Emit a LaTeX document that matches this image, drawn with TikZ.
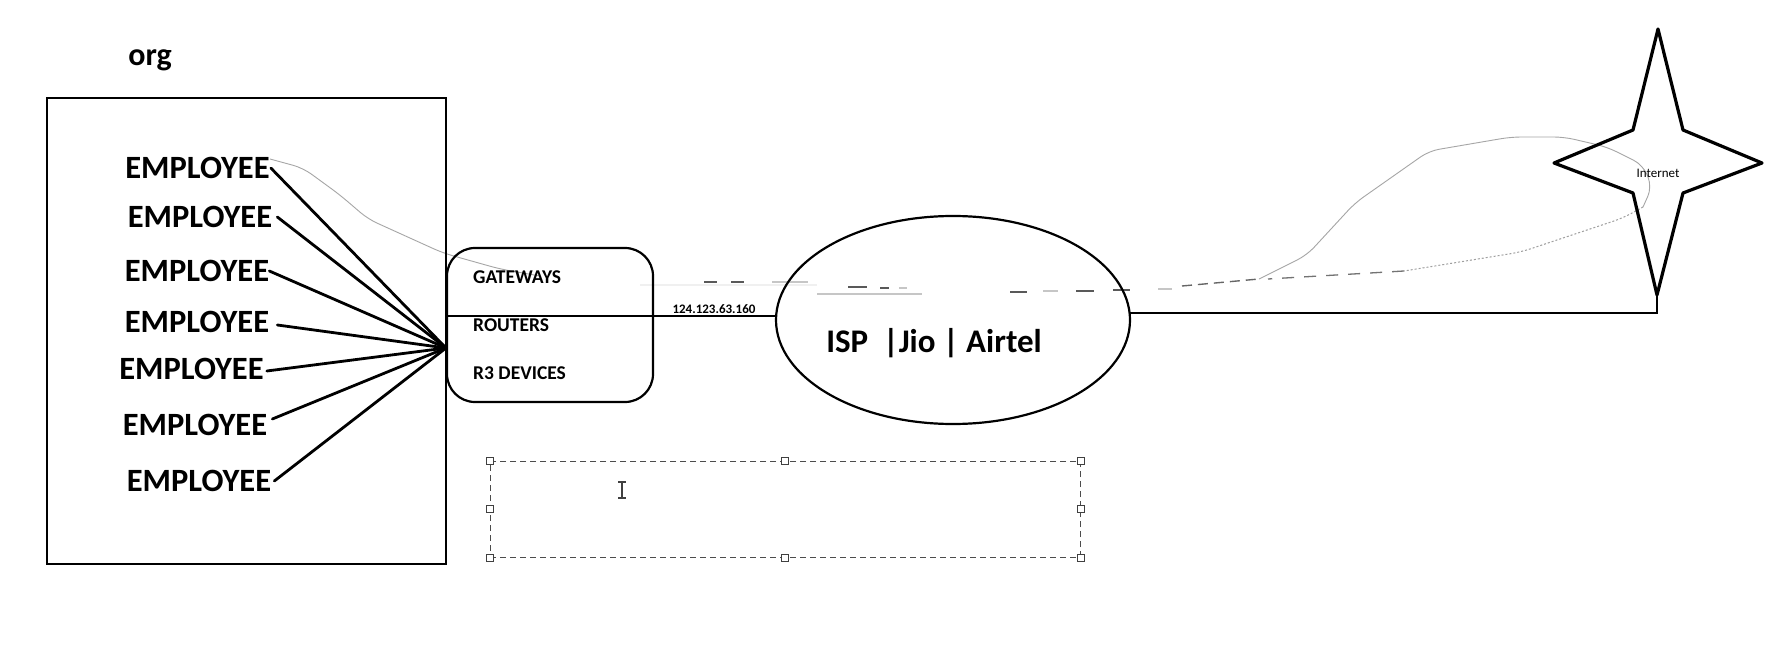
\documentclass[tikz,border=0pt]{standalone}
\usepackage{fontspec}
\setmainfont{Carlito}
\usetikzlibrary{shapes.geometric,calc}
\begin{document}
\begin{tikzpicture}[x=1pt,y=-1pt,
  emp/.style={font=\fontsize{32.5}{38}\selectfont\bfseries, inner sep=0pt},
  devtxt/.style={font=\fontsize{19.5}{23}\selectfont\bfseries, inner sep=0pt, anchor=west},
  link/.style={line width=2.8pt, line cap=round},
  lasso/.style={draw=gray!70, line width=0.9pt, rounded corners=10pt},
  dotlasso/.style={draw=gray!75, line width=1pt, dash pattern=on 2pt off 2pt, rounded corners=10pt},
  dk/.style={draw=black!65, line width=1.6pt},
  lt/.style={draw=gray!45, line width=2.6pt},
  handle/.style={draw=black!75, fill=white, line width=0.9pt, minimum size=7pt, inner sep=0pt}
]
\useasboundingbox (0,0) rectangle (1770,655);
\fill[white] (0,0) rectangle (1770,655);

% ---- grey lasso strokes (drawn first, underneath) ----
\coordinate (gwend) at (540,276);
\coordinate (lassoA) at (1259,279);
\coordinate (lassoB) at (1268,279);
\draw[lasso] (270,159) -- (303,168) -- (340,195) -- (368,219) -- (443,253) -- (500,269) -- (gwend);
\draw[draw=gray!12, line width=2pt] (640,285) -- (817,285);
\draw[dk] (704,282) -- (717,282);
\draw[dk] (731,282) -- (744,282);
\draw[lt] (772,282) -- (808,282);
\draw[dk] (848,287) -- (867,287);
\draw[dk] (880,288) -- (889,288);
\draw[lt] (899,288) -- (907,288);
\draw[lt] (817,294) -- (922,294);
\draw[dk] (1010,292) -- (1027,292);
\draw[lt] (1043,291) -- (1058,291);
\draw[dk] (1076,291) -- (1094,291);
\draw[dk] (1113,290) -- (1130,290);
\draw[lt] (1158,289) -- (1172,289);
\draw[draw=black!60, line width=1.4pt, dash pattern=on 10pt off 6pt] (1182,286) -- (lassoA);
\draw[lasso] (lassoA) -- (1307,255) -- (1355,203) -- (1429,151) -- (1511,137) -- (1564,137) -- (1607,147) -- (1643,165) -- (1652,187) -- (1643,207);
\draw[dotlasso] (1643,207) -- (1623,218) -- (1521,252) -- (1404,271);
\draw[draw=black!55, line width=1.3pt, dash pattern=on 12pt off 10pt] (1404,271) -- (lassoB);

% ---- org box and employees ----
\node[font=\fontsize{32}{38}\selectfont\bfseries, inner sep=0pt] (org) at (150,60) {org};
\node[draw, line width=2pt, minimum width=399pt, minimum height=466pt, inner sep=0pt] (orgbox) at (246,331) {};

\node[emp] (e1) at (197.5,168) {EMPLOYEE};
\node[emp] (e2) at (200,217) {EMPLOYEE};
\node[emp] (e3) at (197,271) {EMPLOYEE};
\node[emp] (e4) at (197,322) {EMPLOYEE};
\node[emp] (e5) at (191.5,369) {EMPLOYEE};
\node[emp] (e6) at (195,425) {EMPLOYEE};
\node[emp] (e7) at (199,481) {EMPLOYEE};

\coordinate (hub) at (446,348);
\draw[link] ([xshift=1pt]e1.east) -- (hub);
\draw[link] ([xshift=5pt]e2.east) -- (hub);
\draw[link] ([xshift=0pt]e3.east) -- (hub);
\draw[link] ([xshift=8pt,yshift=-3pt]e4.east) -- (hub);
\draw[link] ([xshift=3pt,yshift=-2pt]e5.east) -- (hub);
\draw[link] ([xshift=5pt,yshift=6pt]e6.east) -- (hub);
\draw[link] ([xshift=3pt]e7.east) -- (hub);

% ---- devices box ----
\node[draw, line width=2.2pt, rounded corners=28pt, minimum width=206pt, minimum height=154pt, inner sep=0pt] (dev) at (550,325) {};
\node[devtxt] (gw) at (473,277) {GATEWAYS};
\node[devtxt] (rt) at (473,325) {ROUTERS};
\node[devtxt] (r3) at (473,373) {R3 DEVICES};

% ---- ISP ----
\node[draw, ellipse, line width=2.2pt, minimum width=354pt, minimum height=208pt, inner sep=0pt] (isp) at (953,320) {};
\node[font=\fontsize{33}{40}\selectfont\bfseries, inner sep=0pt] (isptxt) at (934,343) {ISP\ \ |Jio | Airtel};
\path (isp.center) ++(-177,-4) coordinate (ispL);
\path (isp.center) ++(176.5,-7) coordinate (ispR);
\draw[link, line cap=butt] (orgbox.east |- ispL) -- (ispL);
\node[font=\fontsize{13}{15}\selectfont\bfseries, inner sep=0pt] (ip) at (714,309) {124.123.63.160};

% ---- Internet star ----
\coordinate (sbot) at (1657,295);
\coordinate (stembase) at (1656,313);
\draw[line width=3.2pt, line join=round] (1658,29) -- (1683,130) -- (1762,163) -- (1683,193) -- (sbot) -- (1633,193) -- (1554,163) -- (1633,130) -- cycle;
\node[font=\fontsize{13}{15}\selectfont, inner sep=0pt] (inet) at (1658,173) {Internet};
\draw[link, line cap=butt] (ispR) -- (stembase -| sbot) -- (sbot);

% ---- selection box ----
\node[draw=black!70, line width=1pt, dash pattern=on 6pt off 4pt, minimum width=590pt, minimum height=96pt, inner sep=0pt] (sel) at (785,509) {};
\foreach \a in {north west,north,north east,east,south east,south,south west,west}
  \node[handle] at (sel.\a) {};
\coordinate (cursor) at (622,490);
\draw[black!75, line width=1.1pt] ($(cursor)+(0,-8)$) -- ($(cursor)+(0,8)$)
  ($(cursor)+(-4,-8)$) -- ($(cursor)+(4,-8)$)
  ($(cursor)+(-4,8)$) -- ($(cursor)+(4,8)$);
\end{tikzpicture}
\end{document}
